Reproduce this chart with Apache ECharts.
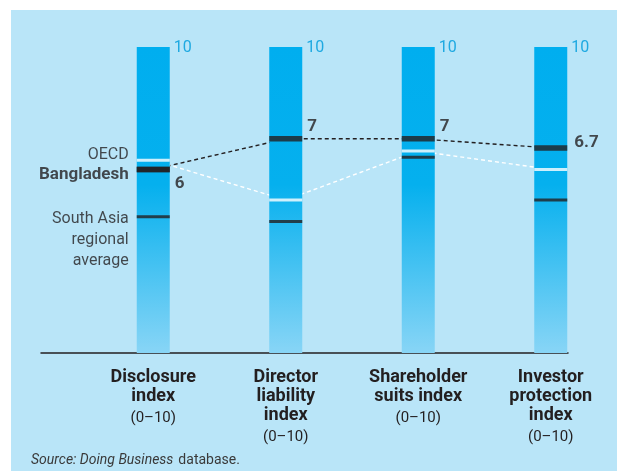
<!DOCTYPE html>
<html>
<head>
<meta charset="utf-8">
<script src="https://cdn.jsdelivr.net/npm/echarts@6/dist/echarts.min.js"></script>
<style>
  html, body { margin: 0; padding: 0; background: #fff; }
  #main { width: 617px; height: 471px; }
</style>
</head>
<body>
<div id="main"></div>
<script>
// categories and values
var categories = ['Disclosure index', 'Director liability index', 'Shareholder suits index', 'Investor protection index'];
var categoryLines = ['Disclosure\nindex', 'Director\nliability\nindex', 'Shareholder\nsuits index', 'Investor\nprotection\nindex'];
var rangeLabel = '(0–10)';
var scaleMax = [10, 10, 10, 10];
var bangladesh = [6, 7, 7, 6.7];
var oecd = [6.3, 5.0, 6.6, 6.0];
var southAsia = [4.45, 4.3, 6.4, 5.0];
var bangladeshLabels = ['6', '7', '7', '6.7'];

var FONT = 'Roboto';
var DARK = '#231f20';

var myChart = echarts.init(document.getElementById('main'));

// label placement for the value numbers next to the black markers
var valueOffsets = [[0, 14], [0, -12], [0, -12], [0, -5]];
var valueDistance = [5, 5, 5, 7];

var bangladeshData = bangladesh.map(function (v, i) {
  return {
    value: v,
    label: {
      show: true,
      position: 'right',
      distance: valueDistance[i],
      offset: valueOffsets[i],
      formatter: bangladeshLabels[i],
      fontFamily: FONT,
      fontWeight: 'bold',
      fontSize: 17,
      color: DARK
    }
  };
});

// legend words go on the first bar's markers
var oecdData = oecd.map(function (v, i) {
  if (i === 0) {
    return {
      value: v,
      label: {
        show: true, position: 'left', distance: 8, offset: [0, -5],
        formatter: 'OECD', fontFamily: FONT, fontSize: 16, color: DARK
      }
    };
  }
  return v;
});

var southAsiaData = southAsia.map(function (v, i) {
  if (i === 0) {
    return {
      value: v,
      label: {
        show: true, position: 'left', distance: 8, offset: [0, 23],
        formatter: 'South Asia\nregional\naverage', align: 'right',
        lineHeight: 21, fontFamily: FONT, fontSize: 16, color: DARK
      }
    };
  }
  return v;
});

var option = {
  backgroundColor: '#ffffff',
  animation: false,
  graphic: [{
    type: 'rect', left: 11, top: 10, z: -10,
    shape: { width: 606, height: 461 },
    style: { fill: '#b9e5f8' }
  }],
  title: {
    left: 26, top: 446,
    text: '{i|Source: Doing Business} {r|database.}',
    textStyle: {
      fontWeight: 'normal',
      rich: {
        i: { fontFamily: FONT, fontStyle: 'italic', fontWeight: 'normal', fontSize: 14, color: '#3a3a3a' },
        r: { fontFamily: FONT, fontWeight: 'normal', fontSize: 14, color: '#3a3a3a' }
      }
    }
  },
  grid: [
    { left: 87, right: 0, top: 47, bottom: 118 },
    { left: 41, right: 49, top: 47, bottom: 118 }
  ],
  xAxis: [{
    type: 'category',
    gridIndex: 0,
    data: categories,
    axisLine: { show: false },
    axisTick: { show: false },
    axisLabel: {
      margin: 15,
      interval: 0,
      formatter: function (val, idx) {
        var lines = categoryLines[idx].split('\n').map(function (s) { return '{b|' + s + '}'; });
        return lines.join('\n') + '\n{n|' + rangeLabel + '}';
      },
      rich: {
        b: { fontFamily: FONT, fontWeight: 'bold', fontSize: 18, lineHeight: 19, color: DARK },
        n: { fontFamily: FONT, fontSize: 15, lineHeight: 24, color: DARK }
      }
    }
  }, {
    type: 'value',
    gridIndex: 1,
    min: 0, max: 1,
    axisLine: { show: true, onZero: false, lineStyle: { color: DARK, width: 1.5 } },
    axisTick: { show: false },
    axisLabel: { show: false },
    splitLine: { show: false }
  }],
  yAxis: [{
    type: 'value', gridIndex: 0, min: 0, max: 10, show: false
  }, {
    type: 'value', gridIndex: 1, min: 0, max: 1, show: false
  }],
  series: [{
    name: 'Scale',
    type: 'bar',
    data: scaleMax,
    barWidth: 33,
    z: 2,
    itemStyle: {
      color: new echarts.graphic.LinearGradient(0, 0, 0, 1, [
        { offset: 0, color: '#00aeef' },
        { offset: 0.45, color: '#05b0ee' },
        { offset: 1, color: '#88d5f6' }
      ])
    },
    label: {
      show: true,
      position: [37, 1],
      align: 'left',
      verticalAlign: 'middle',
      formatter: '{c}',
      fontFamily: FONT,
      fontSize: 16,
      color: '#1fa9e1'
    }
  }, {
    name: 'Bangladesh line',
    type: 'line',
    data: bangladesh,
    symbol: 'none',
    z: 1,
    lineStyle: { color: DARK, width: 1.4, type: [4, 3] }
  }, {
    name: 'OECD line',
    type: 'line',
    data: oecd,
    symbol: 'none',
    z: 1,
    lineStyle: { color: '#ffffff', width: 1.4, type: [4, 3] }
  }, {
    name: 'South Asia',
    type: 'scatter',
    data: southAsiaData,
    symbol: 'rect',
    symbolSize: [33, 3],
    z: 5,
    itemStyle: { color: DARK }
  }, {
    name: 'OECD',
    type: 'scatter',
    data: oecdData,
    symbol: 'rect',
    symbolSize: [33, 3],
    z: 5,
    itemStyle: { color: '#ffffff' }
  }, {
    name: 'Bangladesh',
    type: 'scatter',
    data: bangladeshData,
    symbol: 'rect',
    symbolSize: [33, 5.5],
    z: 6,
    itemStyle: { color: DARK }
  }, {
    // legend word for Bangladesh, sits on the first marker
    name: 'Bangladesh legend',
    type: 'scatter',
    data: [{
      value: bangladesh[0],
      label: {
        show: true, position: 'left', distance: 8, offset: [0, 5],
        formatter: 'Bangladesh', fontFamily: FONT, fontWeight: 'bold', fontSize: 17, color: DARK
      }
    }],
    symbol: 'rect',
    symbolSize: [33, 5.5],
    z: 6,
    itemStyle: { color: DARK }
  }]
};

myChart.setOption(option);
</script>
</body>
</html>
